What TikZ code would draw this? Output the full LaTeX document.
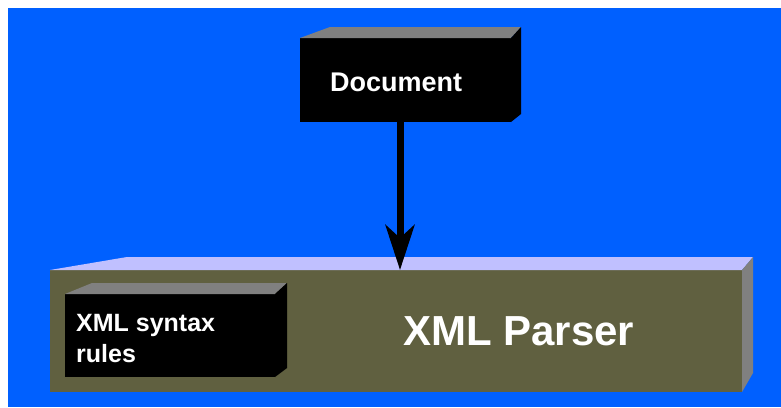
\documentclass[tikz,border=0pt]{standalone}
\usepackage{fontspec}
\newfontfamily\labelfont{Liberation Sans}
\usetikzlibrary{arrows.meta}

\definecolor{stage}{RGB}{0,96,255}
\definecolor{parsertop}{RGB}{192,192,255}
\definecolor{parserfront}{RGB}{96,96,64}
\definecolor{boxtop}{RGB}{128,128,128}
\definecolor{boxside}{RGB}{128,128,128}

\tikzset{
  face/.style={draw=none, inner sep=0pt, outer sep=0pt},
  blackface/.style={face, fill=black},
  caption/.style={font=\labelfont\bfseries, text=white, inner sep=0pt, anchor=base west},
  flow/.style={line width=7pt, -{Stealth[length=45pt, width=29pt, inset=13pt]}},
}

\begin{document}
\begin{tikzpicture}[x=1pt, y=-1pt]
  \useasboundingbox (0,0) rectangle (781,407);
  \fill[white] (0,0) rectangle (781,407);
  \fill[stage] (8,8) rectangle (781,407);

  % ---- parser block ----
  \node[face, fill=parserfront, minimum width=692pt, minimum height=122pt]
    (parser) at (396,331) {};
  \fill[parsertop] (parser.north west) -- (127,257) -- (753,257) -- (parser.north east) -- cycle;
  \fill[boxside] (parser.north east) -- (753,257) -- (753,373) -- (parser.south east) -- cycle;
  \node[caption, font=\labelfont\bfseries\fontsize{42}{48}\selectfont] (parsertext) at (403,345) {XML Parser};

  % ---- syntax rules block inside the parser ----
  \node[blackface, minimum width=210pt, minimum height=83pt] (rules) at (170,335.5) {};
  \fill[boxtop] (rules.north west) -- (92,283) -- (287,283) -- (rules.north east) -- cycle;
  \fill[black] (rules.north east) -- (287,283) -- (287,368) -- (rules.south east) -- cycle;
  \node[caption, anchor=north west, align=left, font=\labelfont\bfseries\fontsize{25}{31}\selectfont]
    (rulestext) at (76,314) {XML syntax\\rules};

  % ---- document block ----
  \node[blackface, minimum width=211pt, minimum height=84pt] (doc) at (405.5,80) {};
  \fill[boxtop] (doc.north west) -- (330,27) -- (521,27) -- (doc.north east) -- cycle;
  \fill[black] (doc.north east) -- (521,27) -- (521,114) -- (doc.south east) -- cycle;
  \node[caption, font=\labelfont\bfseries\fontsize{27}{32}\selectfont] (doctext) at (330,91) {Document};

  % ---- flow from document into parser ----
  \coordinate (src) at ([xshift=-5.5pt]doc.south);
  \draw[flow] (src) -- (src |- parser.north);
\end{tikzpicture}
\end{document}
